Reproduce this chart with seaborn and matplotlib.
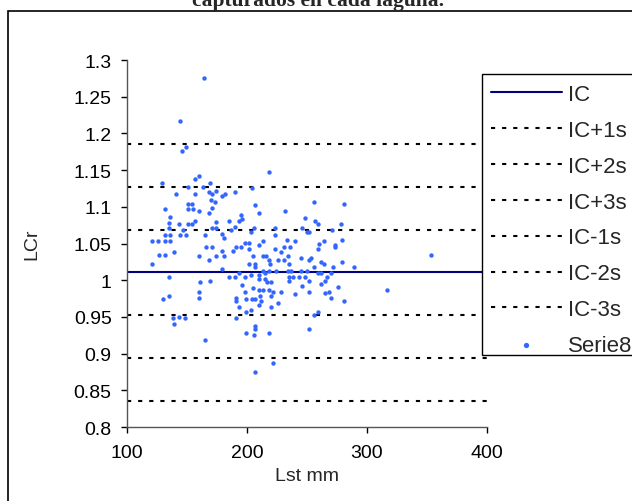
import numpy as np
import pandas as pd
import seaborn as sns
import matplotlib
matplotlib.use("Agg")
from matplotlib import pyplot as plt
from matplotlib.patches import Rectangle
from matplotlib.ticker import FuncFormatter

# values
lst_mm = [
    164, 144, 146, 149, 218, 129, 160, 157, 151, 163, 169, 204, 168, 174, 141, 157, 171, 179, 182, 190,
    151, 154, 132, 151, 155, 160, 168, 136, 135, 143, 151, 154, 157, 135, 147, 132, 136, 144, 149, 165,
    121, 126, 132, 136, 166, 127, 132, 139, 160, 168, 121, 135, 161, 169, 160, 135, 160, 130, 138, 143,
    148, 139,
    170, 173, 171, 207, 210, 232, 195, 196, 193, 185, 174, 190, 187, 171, 174, 206, 203, 248, 246, 250,
    252, 179, 181, 223, 223, 213, 233, 240, 198, 202, 210, 191, 195, 171, 202, 188, 179, 223, 231, 236,
    228, 205, 213, 216, 174, 181, 218, 226, 231, 234, 245, 252, 202, 207, 219, 207, 235, 179, 213, 218,
    224, 234, 237, 245, 250, 193, 215, 185, 190, 198, 203, 210, 235, 238, 243, 248, 210, 215, 235, 217,
    220, 196, 205, 246, 210, 213, 218, 228, 198, 222, 240, 211, 220, 191, 204, 207, 199, 191, 212, 226,
    210, 193, 220, 203, 199, 191, 207,
    256, 281, 257, 259, 278, 271, 279, 260, 264, 273, 273, 259, 253, 262, 264, 279, 256, 272, 289, 259,
    262, 270, 267, 252, 353, 317, 262, 265, 276, 265, 268, 270, 281, 252, 256, 259, 252,
    165, 199, 206, 218, 207, 222, 207,
]
lcr = [
    1.276, 1.217, 1.176, 1.181, 1.148, 1.132, 1.142, 1.138, 1.127, 1.127, 1.132, 1.125, 1.120, 1.122, 1.117, 1.117, 1.117, 1.115, 1.117, 1.120,
    1.104, 1.104, 1.097, 1.097, 1.097, 1.094, 1.092, 1.086, 1.078, 1.076, 1.076, 1.076, 1.081, 1.071, 1.068, 1.061, 1.061, 1.061, 1.061, 1.061,
    1.053, 1.053, 1.053, 1.053, 1.045, 1.035, 1.035, 1.038, 1.033, 1.027, 1.022, 1.004, 0.997, 0.999, 0.984, 0.979, 0.976, 0.974, 0.948, 0.950,
    0.948, 0.940,
    1.109, 1.106, 1.099, 1.102, 1.092, 1.094, 1.089, 1.084, 1.081, 1.081, 1.079, 1.073, 1.068, 1.071, 1.071, 1.071, 1.066, 1.085, 1.071, 1.066,
    1.066, 1.063, 1.058, 1.071, 1.061, 1.053, 1.055, 1.053, 1.051, 1.051, 1.048, 1.045, 1.045, 1.045, 1.043, 1.040, 1.040, 1.043, 1.045, 1.045,
    1.038, 1.033, 1.033, 1.033, 1.033, 1.033, 1.028, 1.028, 1.028, 1.033, 1.030, 1.028, 1.022, 1.022, 1.022, 1.018, 1.022, 1.015, 1.013, 1.013,
    1.013, 1.013, 1.013, 1.013, 1.013, 1.010, 1.010, 1.005, 1.005, 1.005, 1.007, 1.007, 1.005, 1.005, 1.005, 1.005, 1.001, 1.002, 0.999, 0.997,
    0.997, 0.994, 0.989, 0.992, 0.987, 0.987, 0.987, 0.984, 0.984, 0.984, 0.981, 0.979, 0.979, 0.976, 0.974, 0.974, 0.974, 0.971, 0.971, 0.969,
    0.966, 0.963, 0.963, 0.959, 0.956, 0.948, 0.938,
    1.107, 1.104, 1.081, 1.076, 1.076, 1.068, 1.055, 1.050, 1.053, 1.048, 1.045, 1.043, 1.030, 1.025, 1.022, 1.025, 1.018, 1.018, 1.018, 1.010,
    1.010, 1.010, 1.005, 0.999, 1.035, 0.987, 0.995, 0.999, 0.991, 0.982, 0.984, 0.976, 0.971, 0.984, 0.953, 0.956, 0.933,
    0.918, 0.928, 0.925, 0.928, 0.933, 0.887, 0.875,
]

line_names = ["IC", "IC+1s", "IC+2s", "IC+3s", "IC-1s", "IC-2s", "IC-3s"]
line_levels = [1.011, 1.069, 1.127, 1.185, 0.953, 0.894, 0.836]

df = pd.DataFrame({"Lst mm": lst_mm, "LCr": lcr})

sns.set_style("white")
plt.rcParams["font.family"] = ["Liberation Sans", "DejaVu Sans"]
plt.rcParams["lines.scale_dashes"] = False

fig = plt.figure(figsize=(6.32, 5.02), dpi=100)
ax = fig.add_axes([127 / 632, 1 - 428 / 502, 360 / 632, 367 / 502])

# reference lines
for name, level in zip(line_names, line_levels):
    if name == "IC":
        ax.axhline(level, color="#000080", lw=1.5, label=name, zorder=2)
    else:
        ax.axhline(level, color="black", lw=1.5, dashes=(3, 5), label=name, zorder=2)

sns.scatterplot(data=df, x="Lst mm", y="LCr", ax=ax, color="#3366ff", s=10,
                linewidth=0, label="Serie8", zorder=3)

ax.set_xlim(100, 400)
ax.set_ylim(0.8, 1.3)
ax.set_xticks([100, 200, 300, 400])
ax.set_yticks(np.arange(0.8, 1.301, 0.05))
ax.yaxis.set_major_formatter(FuncFormatter(lambda v, p: "{:g}".format(round(v, 2))))
ax.tick_params(axis="both", direction="out", length=4, width=1, colors="black",
               labelsize=14, left=True, bottom=True)
ax.tick_params(axis="y", pad=7)
ax.tick_params(axis="x", pad=8)
sns.despine(ax=ax)
for sp in ["left", "bottom"]:
    ax.spines[sp].set_color("#555555")
    ax.spines[sp].set_linewidth(1)
ax.set_xlabel("Lst mm", fontsize=14)
ax.set_ylabel("LCr", fontsize=14)
ax.xaxis.set_label_coords(0.5, (428 - 468) / 367)
ax.yaxis.set_label_coords((40 - 127) / 360, 0.5)

handles, labels = ax.get_legend_handles_labels()
leg = ax.legend(handles, labels, loc="upper left", bbox_to_anchor=(482 / 632, 1 - 76 / 502),
                bbox_transform=fig.transFigure, borderaxespad=0, frameon=False,
                fontsize=16, handlelength=3.2, handletextpad=0.25,
                labelspacing=0.67, borderpad=0.4, markerscale=1.2)
leg.set_zorder(6)

# legend box runs past the right edge, like the chart frame
ax.add_patch(Rectangle((482 / 632, 1 - 356 / 502), 0.5, 281 / 502, transform=fig.transFigure,
                       clip_on=False, facecolor="white", edgecolor="black", lw=1, zorder=5))
fig.patches.append(Rectangle((8 / 632, -0.1), 1.1, 1 - 12 / 502 + 0.1, transform=fig.transFigure,
                             fill=False, edgecolor="black", lw=1.2, zorder=0))
fig.text(0.503, 1 - 6 / 502, "capturados en cada laguna.", ha="center", va="baseline",
         fontsize=15.5, fontweight="bold", family=["Liberation Serif", "DejaVu Serif"])

fig.savefig("out.png", dpi=100)
